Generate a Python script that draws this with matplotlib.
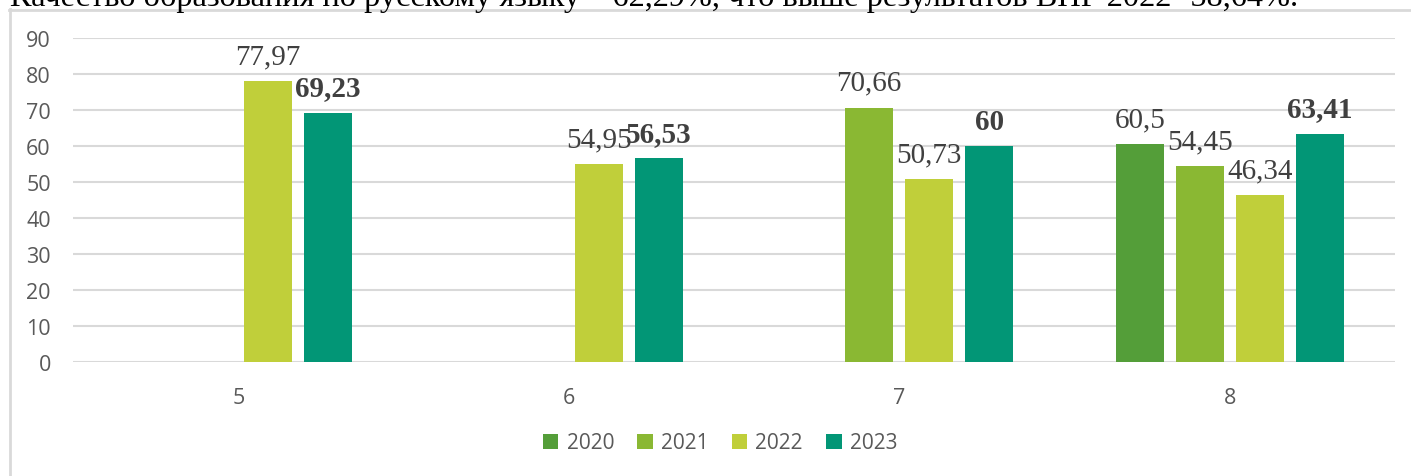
import matplotlib.pyplot as plt
import numpy as np

categories = ["5", "6", "7", "8"]
years = ["2020", "2021", "2022", "2023"]
v2020 = [np.nan, np.nan, np.nan, 60.5]
v2021 = [np.nan, np.nan, 70.66, 54.45]
v2022 = [77.97, 54.95, 50.73, 46.34]
v2023 = [69.23, 56.53, 60, 63.41]
colors = ["#549E39", "#8AB833", "#C0CF3A", "#029676"]
top_text = "Качество образования по русскому языку – 62,29%, что выше результатов ВПР 2022- 58,64%."

fig = plt.figure(figsize=(14.11, 4.77), dpi=100)
ax = fig.add_axes([73/1411, 1-363/477, 1322/1411, 324/477])

x = np.arange(len(categories))
width = 0.145
offsets = [-0.272, -0.0908, 0.0908, 0.272]
series = [v2020, v2021, v2022, v2023]

for i, (vals, col, yr) in enumerate(zip(series, colors, years)):
    bars = ax.bar(x + offsets[i], vals, width, color=col, label=yr, zorder=3)
    for xi, v in zip(x + offsets[i], vals):
        if np.isnan(v):
            continue
        lbl = ("%g" % v).replace(".", ",")
        ax.annotate(lbl, (xi, v), xytext=(0, 18), textcoords="offset points",
                    ha="center", va="center", fontsize=21,
                    family="Liberation Serif", color="#404040",
                    fontweight="bold" if yr == "2023" else "normal", zorder=4)

ax.set_xlim(-0.5, 3.5)
ax.set_ylim(0, 90)
ax.set_yticks(range(0, 91, 10))
ax.set_xticks(x)
ax.set_xticklabels(categories)
ax.yaxis.grid(True, color="#D9D9D9", linewidth=1.5, zorder=0)
ax.tick_params(axis="both", length=0, labelsize=15.5, labelcolor="#595959",
               labelfontfamily="Open Sans")
ax.tick_params(axis="y", pad=16)
ax.tick_params(axis="x", pad=18)
for s in ax.spines.values():
    s.set_visible(False)

fig.legend(loc="center", bbox_to_anchor=(720/1411, 1-444/477), ncol=4, frameon=False,
           prop={"family": "Open Sans", "size": 15}, labelcolor="#595959",
           handlelength=0.75, handleheight=0.75, handletextpad=0.4, columnspacing=1.1)

# outer chart frame (left and top edges visible)
fig.add_artist(plt.Line2D([9.5/1411, 9.5/1411], [0, 1-10/477], color="#D9D9D9", lw=2,
                          transform=fig.transFigure))
fig.add_artist(plt.Line2D([9/1411, 1], [1-10.5/477, 1-10.5/477], color="#D9D9D9", lw=2,
                          transform=fig.transFigure))

fig.text(10/1411, 1-6/477, top_text, ha="left", va="baseline", fontsize=23.3,
         family="Liberation Serif", color="black")

fig.savefig("out.png", dpi=100)
